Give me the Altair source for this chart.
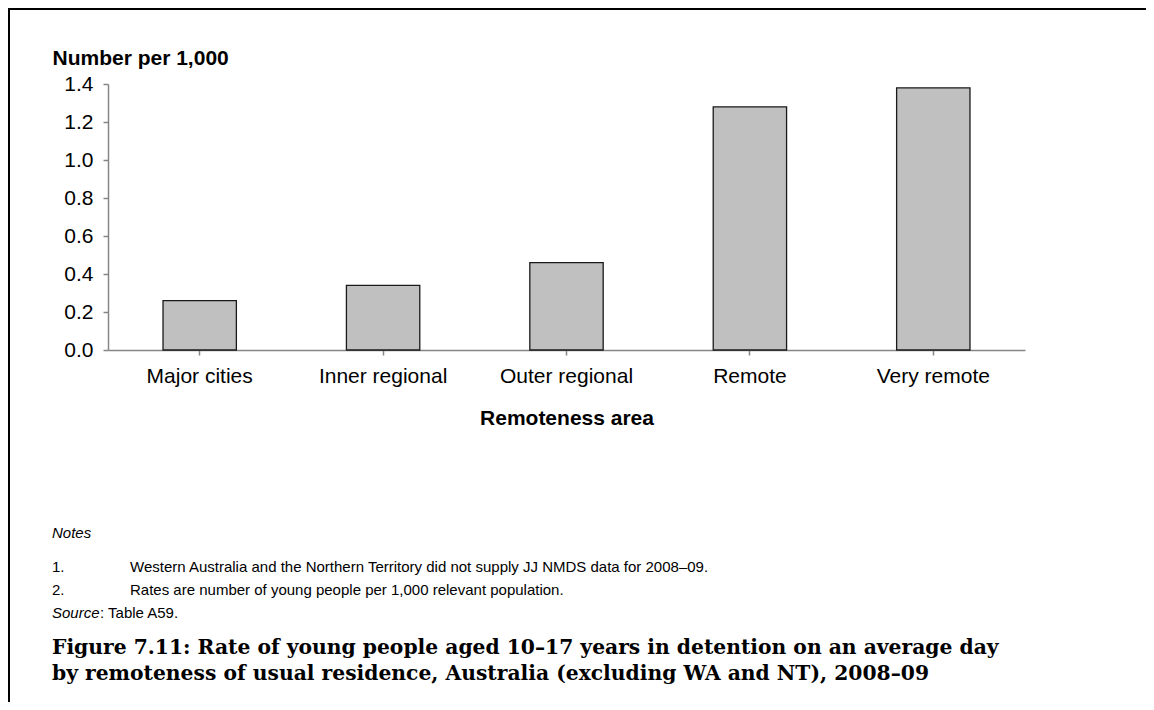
import altair as alt
import pandas as pd

# ---- data ----
categories = ["Major cities", "Inner regional", "Outer regional", "Remote", "Very remote"]
rates = [0.26, 0.34, 0.46, 1.28, 1.38]
y_ticks = [0.0, 0.2, 0.4, 0.6, 0.8, 1.0, 1.2, 1.4]
y_title = "Number per 1,000"
x_title = "Remoteness area"
notes_heading = "Notes"
note_numbers = ["1.", "2."]
note_texts = [
    "Western Australia and the Northern Territory did not supply JJ NMDS data for 2008\u201309.",
    "Rates are number of young people per 1,000 relevant population.",
]
source_label = "Source"
source_text = ": Table A59."
caption_lines = [
    "Figure 7.11: Rate of young people aged 10\u201317 years in detention on an average day",
    "by remoteness of usual residence, Australia (excluding WA and NT), 2008\u201309",
]

# ---- layout ----
W, H = 917, 266
PAD_L, PAD_T = 100, 76
TOTAL_W, TOTAL_H = 1138, 694
SANS = "Liberation Sans"
SERIF = "DejaVu Serif"

df = pd.DataFrame({"area": categories, "rate": rates})

bars = alt.Chart(df).mark_bar(fill="#C0C0C0", stroke="#1a1a1a", strokeWidth=1.3).encode(
    x=alt.X(
        "area:N",
        sort=categories,
        scale=alt.Scale(paddingInner=0.6, paddingOuter=0.3),
        axis=alt.Axis(
            title=x_title,
            labelAngle=0,
            labelPadding=10,
            titlePadding=21,
            titleFontWeight="bold",
        ),
    ),
    y=alt.Y(
        "rate:Q",
        scale=alt.Scale(domain=[0, 1.4], nice=False),
        axis=alt.Axis(
            values=y_ticks,
            format=".1f",
            title=y_title,
            titleAngle=0,
            titleAlign="left",
            titleBaseline="alphabetic",
            titleX=-56,
            titleY=-20,
            titleFontWeight="bold",
            labelPadding=10,
        ),
    ),
)


def text_layer(s, x, y, size, weight="normal", style="normal", font=SANS):
    return alt.Chart(pd.DataFrame({"t": [s]})).mark_text(
        align="left", baseline="middle", fontSize=size, fontWeight=weight,
        fontStyle=style, font=font, color="black"
    ).encode(x=alt.value(x), y=alt.value(y), text="t:N")


NOTE = 15
texts = [
    text_layer(notes_heading, -56, 449, NOTE, style="italic"),
    text_layer(note_numbers[0], -56, 483, NOTE),
    text_layer(note_texts[0], 22, 483, NOTE),
    text_layer(note_numbers[1], -56, 506, NOTE),
    text_layer(note_texts[1], 22, 506, NOTE),
    text_layer(source_label, -56, 529, NOTE, style="italic"),
    text_layer(source_text, -56 + 48, 529, NOTE),
    text_layer(caption_lines[0], -56, 564, 20.3, weight="bold", font=SERIF),
    text_layer(caption_lines[1], -56, 590, 20.3, weight="bold", font=SERIF),
]

one = pd.DataFrame({"a": [0]})
left_rule = alt.Chart(one).mark_rule(color="black", strokeWidth=2).encode(
    x=alt.value(-99), y=alt.value(-PAD_T), y2=alt.value(TOTAL_H - PAD_T)
)
top_rule = alt.Chart(one).mark_rule(color="black", strokeWidth=2).encode(
    y=alt.value(-PAD_T + 1), x=alt.value(-PAD_L), x2=alt.value(TOTAL_W - PAD_L)
)

chart = alt.layer(bars, *texts, left_rule, top_rule).properties(
    width=W,
    height=H,
    autosize=alt.AutoSizeParams(type="none"),
    padding={"left": PAD_L, "top": PAD_T, "right": TOTAL_W - PAD_L - W, "bottom": TOTAL_H - PAD_T - H},
).configure_view(stroke=None).configure_axis(
    grid=False,
    domainColor="#868686",
    tickColor="#868686",
    domainWidth=1.5,
    tickWidth=1.5,
    tickSize=5,
    labelFont=SANS,
    labelFontSize=21,
    labelColor="black",
    titleFont=SANS,
    titleFontSize=21,
    titleColor="black",
)

chart.save("out.html", embed_options={"renderer": "svg", "actions": False})
